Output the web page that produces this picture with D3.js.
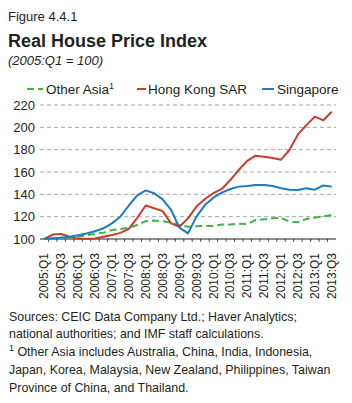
<!DOCTYPE html>
<html>
<head>
<meta charset="utf-8">
<script src="https://cdn.jsdelivr.net/npm/d3@7"></script>
<style>
  body { margin: 0; background: #fff; }
  svg { display: block; font-family: "Liberation Sans", Arial, sans-serif; }
</style>
</head>
<body>
<svg id="chart" width="352" height="403"></svg>
<script>
// quarters shown on the x axis (one point per quarter)
const quarters = [
    "2005:Q1", "2005:Q2", "2005:Q3", "2005:Q4", "2006:Q1", "2006:Q2", "2006:Q3", "2006:Q4",
    "2007:Q1", "2007:Q2", "2007:Q3", "2007:Q4", "2008:Q1", "2008:Q2", "2008:Q3", "2008:Q4",
    "2009:Q1", "2009:Q2", "2009:Q3", "2009:Q4", "2010:Q1", "2010:Q2", "2010:Q3", "2010:Q4",
    "2011:Q1", "2011:Q2", "2011:Q3", "2011:Q4", "2012:Q1", "2012:Q2", "2012:Q3", "2012:Q4",
    "2013:Q1", "2013:Q2", "2013:Q3"
];

const otherAsia = [100, 100.3, 101.2, 101.5, 102, 103.3, 104.5, 105.7, 108, 109, 110, 112.5,
    116, 116.5, 116, 114.5, 112.5, 111, 111.5, 111.6, 111.6, 113, 113, 113.7, 113.4, 117,
    117.6, 118.5, 119, 115.5, 115, 118, 119, 120.3, 121.5];

const hongKong = [100, 104, 104.5, 102, 100.3, 100.3, 100.5, 102, 103.6, 105.5, 109, 119,
    130, 127.5, 125, 114, 111, 118.5, 129, 135.8, 141, 144.8, 152.8, 161.8, 170, 174.6,
    173.7, 172.5, 171, 179.7, 193.7, 202, 209.6, 206.3, 214];

const singapore = [100, 100.6, 101.2, 102, 103.3, 105, 107, 109.6, 114, 120, 130, 139,
    143.5, 141, 135.5, 126, 110, 105, 120, 130.4, 137, 141.5, 144.8, 146.9, 147.5, 148.4,
    148.4, 147.5, 145.4, 144.2, 143.9, 145.4, 144.2, 148, 146.9];

const yTicks = [100, 120, 140, 160, 180, 200, 220];

const footnotes = [
    "Sources: CEIC Data Company Ltd.; Haver Analytics;",
    "national authorities; and IMF staff calculations.",
    "Other Asia includes Australia, China, India, Indonesia,",
    "Japan, Korea, Malaysia, New Zealand, Philippines, Taiwan",
    "Province of China, and Thailand."
];

const seriesList = [
    { name: "Other Asia", values: otherAsia, color: "#3bb54a", dash: "7,4", sup: "1" },
    { name: "Hong Kong SAR", values: hongKong, color: "#cc3a2c", dash: null },
    { name: "Singapore", values: singapore, color: "#1b7bc4", dash: null }
];

const svg = d3.select("#chart");
const ink = "#231f20";

// header
svg.append("text").attr("x", 8).attr("y", 20.5)
    .style("font-size", "13px").attr("fill", ink).text("Figure 4.4.1");
svg.append("text").attr("x", 8).attr("y", 46.5)
    .style("font-size", "18px").style("font-weight", "bold").attr("fill", ink)
    .text("Real House Price Index");
svg.append("text").attr("x", 8).attr("y", 65)
    .style("font-size", "13px").style("font-style", "italic").attr("fill", ink)
    .text("(2005:Q1 = 100)");

// scales
const x = d3.scaleBand().domain(quarters).range([40, 336]);
const y = d3.scaleLinear().domain([100, 220]).range([239, 105]);
const cx = q => x(q) + x.bandwidth() / 2;

// gridlines
svg.append("g").selectAll("line")
    .data(yTicks.filter(d => d > 100))
    .enter().append("line")
    .attr("x1", 40).attr("x2", 336)
    .attr("y1", d => y(d)).attr("y2", d => y(d))
    .attr("stroke", "#a6a6a6")
    .attr("stroke-width", 1)
    .attr("stroke-dasharray", "4,3");

// y labels
svg.append("g").selectAll("text")
    .data(yTicks)
    .enter().append("text")
    .attr("x", 35).attr("y", d => y(d)).attr("dy", "0.35em")
    .attr("text-anchor", "end")
    .style("font-size", "13px").attr("fill", ink)
    .text(d => d);

// x axis
const xAxis = d3.axisBottom(x)
    .tickValues(quarters.filter((q, i) => i % 2 === 0))
    .tickSize(0);
const gx = svg.append("g").attr("transform", `translate(0, ${y(100)})`).call(xAxis);
gx.select(".domain").remove();
gx.selectAll("text")
    .attr("transform", "rotate(-90)")
    .attr("x", -14).attr("y", 0).attr("dy", "0.35em")
    .attr("text-anchor", "end")
    .style("font-size", "12px")
    .style("font-family", "'Liberation Sans', Arial, sans-serif")
    .attr("fill", ink);

// small ticks between the quarters
svg.append("g").selectAll("line")
    .data(quarters.slice(1))
    .enter().append("line")
    .attr("x1", d => x(d)).attr("x2", d => x(d))
    .attr("y1", y(100)).attr("y2", y(100) + 3)
    .attr("stroke", ink).attr("stroke-width", 0.8);

svg.append("line")
    .attr("x1", 40).attr("x2", 336)
    .attr("y1", y(100)).attr("y2", y(100))
    .attr("stroke", ink).attr("stroke-width", 1);

// series lines
const line = d3.line()
    .x((d, i) => cx(quarters[i]))
    .y(d => y(d));

seriesList.forEach(s => {
    svg.append("path")
        .datum(s.values)
        .attr("d", line)
        .attr("fill", "none")
        .attr("stroke", s.color)
        .attr("stroke-width", 2)
        .attr("stroke-dasharray", s.dash)
        .attr("stroke-linejoin", "round");
});

// legend
const legendItems = [
    { x: 27, w: 16, tx: 46 },
    { x: 137, w: 9, tx: 148 },
    { x: 262, w: 12, tx: 277 }
];
seriesList.forEach((s, i) => {
    const it = legendItems[i];
    svg.append("line")
        .attr("x1", it.x).attr("x2", it.x + it.w)
        .attr("y1", 89).attr("y2", 89)
        .attr("stroke", s.color).attr("stroke-width", 2)
        .attr("stroke-dasharray", s.dash ? "7,4" : null);
    const t = svg.append("text")
        .attr("x", it.tx).attr("y", 93.5)
        .style("font-size", "13.5px").attr("fill", ink)
        .text(s.name);
    if (s.sup) {
        t.append("tspan").attr("dy", -5).style("font-size", "9px").text(s.sup);
    }
});

// footnotes
footnotes.forEach((line, i) => {
    const t = svg.append("text")
        .attr("x", 9).attr("y", 320.5 + i * 17.8)
        .style("font-size", "12.4px").attr("fill", ink);
    if (i === 2) {
        t.append("tspan").attr("dy", -5).style("font-size", "9px").text("1");
        t.append("tspan").attr("dy", 5).text(" " + line);
    } else {
        t.text(line);
    }
});
</script>
</body>
</html>
